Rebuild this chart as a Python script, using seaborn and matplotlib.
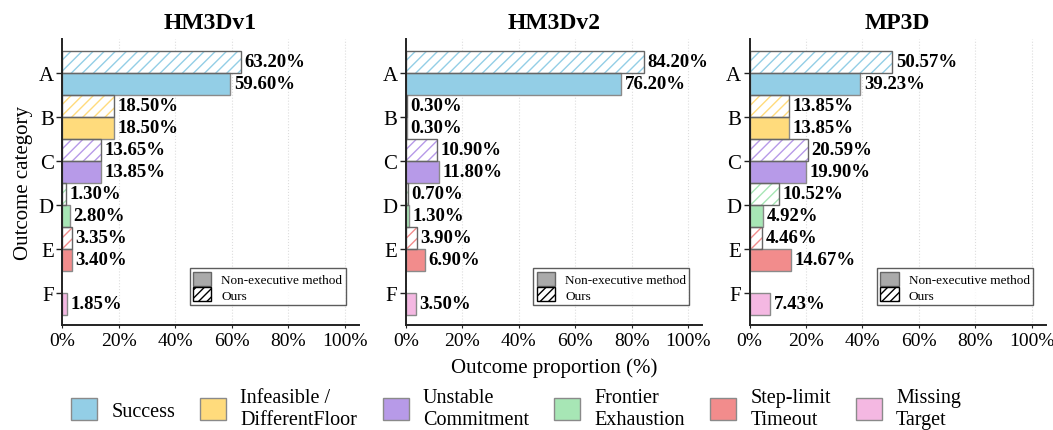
import pandas as pd
import matplotlib
matplotlib.use("Agg")
import matplotlib.pyplot as plt
from matplotlib.patches import Patch, Rectangle
from matplotlib.ticker import PercentFormatter
import seaborn as sns

categories = ["A", "B", "C", "D", "E", "F"]
outcome_names = ["Success", "Infeasible /\nDifferentFloor", "Unstable\nCommitment",
                 "Frontier\nExhaustion", "Step-limit\nTimeout", "Missing\nTarget"]
colors = ["#93CEE6", "#FFDB7C", "#B79AE8", "#A7E6B5", "#F28C8C", "#F4B8E2"]

datasets = ["HM3Dv1", "HM3Dv2", "MP3D"]
ours_v1 = [63.20, 18.50, 13.65, 1.30, 3.35, 0.0]
base_v1 = [59.60, 18.50, 13.85, 2.80, 3.40, 1.85]
ours_v2 = [84.20, 0.30, 10.90, 0.70, 3.90, 0.0]
base_v2 = [76.20, 0.30, 11.80, 1.30, 6.90, 3.50]
ours_mp = [50.57, 13.85, 20.59, 10.52, 4.46, 0.0]
base_mp = [39.23, 13.85, 19.90, 4.92, 14.67, 7.43]

methods = ["Ours", "Non-executive method"]
values = {"HM3Dv1": (ours_v1, base_v1), "HM3Dv2": (ours_v2, base_v2), "MP3D": (ours_mp, base_mp)}

rows = []
for ds in datasets:
    ours, base = values[ds]
    for c, o, b in zip(categories, ours, base):
        rows.append({"dataset": ds, "category": c, "method": "Ours", "value": o})
        rows.append({"dataset": ds, "category": c, "method": "Non-executive method", "value": b})
df = pd.DataFrame(rows)

sns.set_theme(style="white")
plt.rcParams["font.family"] = ["Liberation Serif", "DejaVu Serif"]
plt.rcParams["hatch.linewidth"] = 1.0
for k in ["text.color", "axes.labelcolor", "xtick.color", "ytick.color"]:
    plt.rcParams[k] = "black"

fig, axes = plt.subplots(1, 3, figsize=(10.53, 4.31), dpi=100)
fig.subplots_adjust(left=0.059, right=0.9934, bottom=0.2436, top=0.907, wspace=0.159)

for ax, ds in zip(axes, datasets):
    sub = df[df["dataset"] == ds]
    sns.barplot(data=sub, x="value", y="category", hue="method", hue_order=methods,
                order=categories, orient="h", width=1.0, errorbar=None,
                legend=False, ax=ax)
    for p in list(ax.patches):
        yc = p.get_y() + p.get_height() / 2
        idx = int(round(yc))
        is_ours = yc < idx
        w = p.get_width()
        if w <= 0:
            p.set_visible(False)
            continue
        col = colors[idx]
        if is_ours:
            p.set_facecolor("white")
            p.set_edgecolor(col)
            p.set_hatch("///")
            p.set_linewidth(0)
            ax.add_patch(Rectangle((p.get_x(), p.get_y()), w, p.get_height(),
                                   fill=False, edgecolor="#666666", linewidth=1.0, zorder=p.get_zorder() + 0.1))
        else:
            p.set_facecolor(col)
            p.set_edgecolor("#8a8a8a")
            p.set_linewidth(1.0)
        ax.annotate(f"{w:.2f}%", (w, yc), xytext=(2.5, 0), textcoords="offset points",
                    va="center", ha="left", fontsize=13.5, fontweight="bold", color="black")

    ax.set_xlim(0, 105)
    ax.set_ylim(5.73, -0.77)
    ax.set_xticks([0, 20, 40, 60, 80, 100])
    ax.xaxis.set_major_formatter(PercentFormatter(decimals=0))
    ax.grid(axis="x", linestyle=":", color="#dddddd", linewidth=0.8)
    ax.set_axisbelow(True)
    for s in ["top", "right"]:
        ax.spines[s].set_visible(False)
    for s in ["left", "bottom"]:
        ax.spines[s].set_color("#222222")
        ax.spines[s].set_linewidth(1.4)
    ax.tick_params(axis="y", left=True, length=4, width=1.0, labelsize=15, pad=2, color="#222222")
    ax.tick_params(axis="x", bottom=True, length=2, width=0.8, labelsize=14, pad=3, color="#222222")
    ax.set_title(ds, fontsize=17, fontweight="bold", pad=8, color="black")
    ax.set_xlabel("")
    ax.set_ylabel("")

    handles = [Patch(facecolor="#aaaaaa", edgecolor="#666666", label="Non-executive method"),
               Patch(facecolor="white", edgecolor="black", hatch="////", label="Ours")]
    leg = ax.legend(handles=handles, loc="lower right", bbox_to_anchor=(0.956, 0.07),
                    borderaxespad=0, fontsize=9.5, frameon=True, fancybox=False,
                    handlelength=1.4, handleheight=1.25, borderpad=0.25, labelspacing=0.1,
                    handletextpad=0.75)
    leg.get_frame().set_edgecolor("#333333")
    leg.get_frame().set_linewidth(1.0)

axes[0].set_ylabel("Outcome category", fontsize=15)
axes[1].set_xlabel("Outcome proportion (%)", fontsize=15, labelpad=6)

legend_handles = [Patch(facecolor=c, edgecolor="#8a8a8a", label=n) for c, n in zip(colors, outcome_names)]
fig.legend(handles=legend_handles, loc="center", bbox_to_anchor=(0.49, 0.049), ncol=6,
           fontsize=14.5, frameon=False, handlelength=1.3, handleheight=1.25,
           handletextpad=0.7, columnspacing=1.25, labelspacing=0.1)

fig.savefig("out.png", dpi=100)
